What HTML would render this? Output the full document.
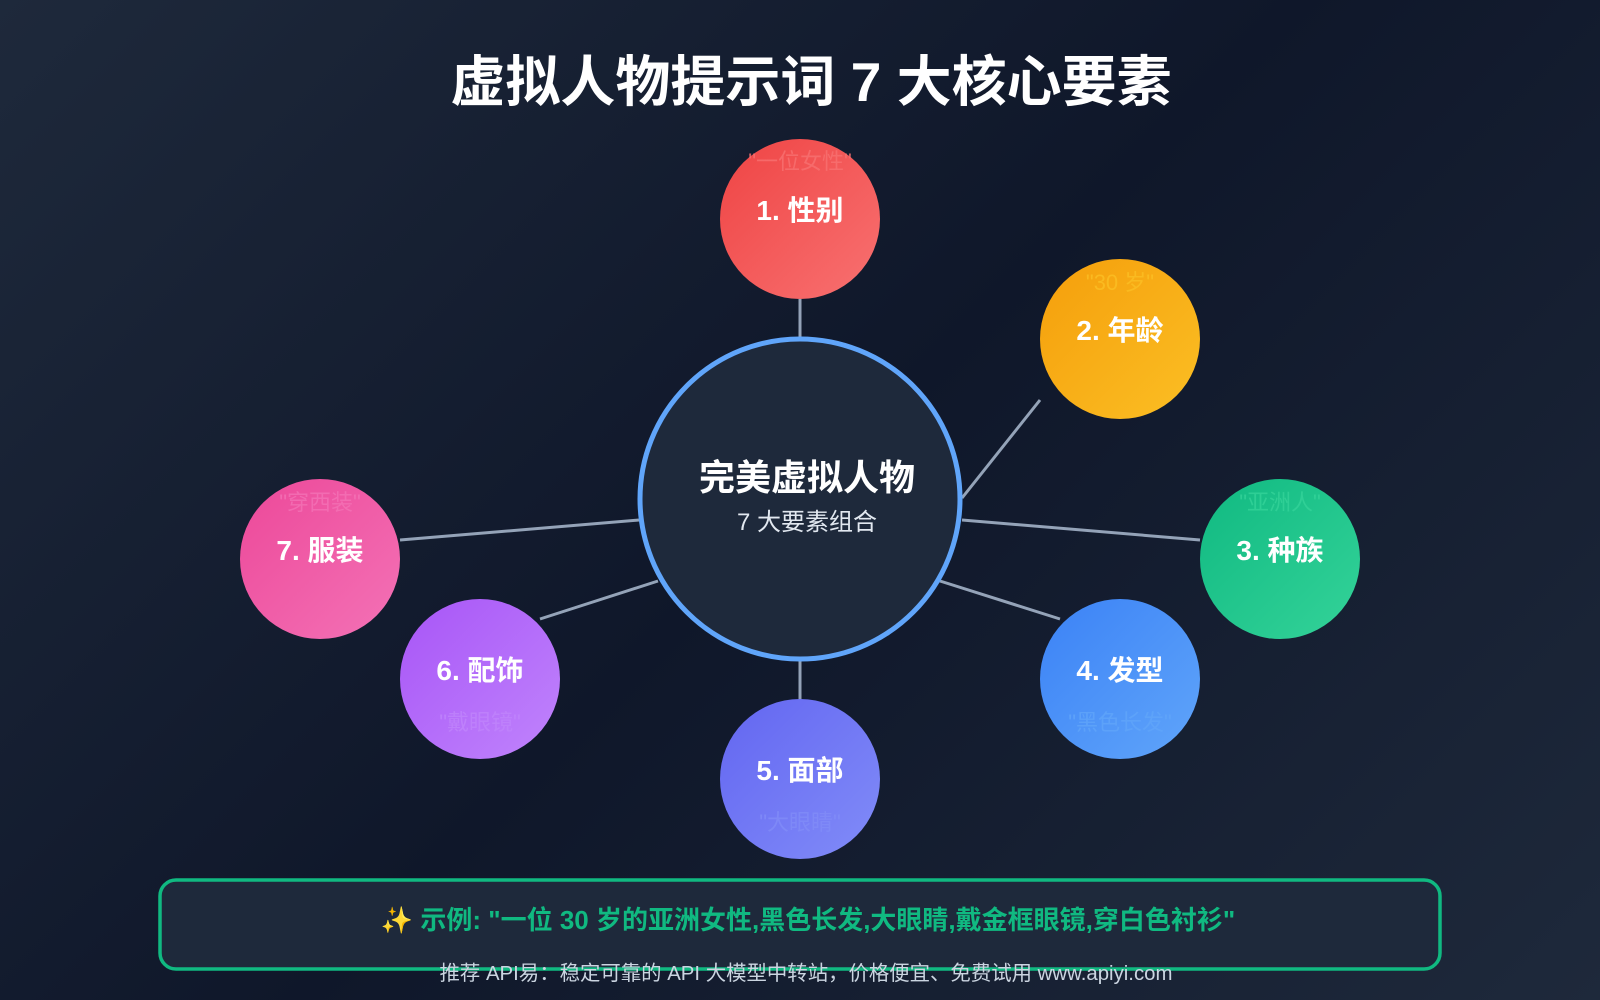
<!DOCTYPE html>
<html><head><meta charset="utf-8"><style>
html,body{margin:0;padding:0;}
body{width:1600px;height:1000px;overflow:hidden;background:linear-gradient(135deg,#1e293b 0%,#0f172a 50%,#1e293b 100%);font-family:"Liberation Sans","Noto Sans CJK SC",sans-serif;}
</style></head><body>
<svg width="1600" height="1000" viewBox="0 0 1600 1000" xmlns="http://www.w3.org/2000/svg" style="position:absolute;left:0;top:0">
<defs>
<linearGradient id="g1" x1="0" y1="0" x2="1" y2="1"><stop offset="0" stop-color="#ef4444"/><stop offset="1" stop-color="#f87171"/></linearGradient>
<linearGradient id="g2" x1="0" y1="0" x2="1" y2="1"><stop offset="0" stop-color="#f59e0b"/><stop offset="1" stop-color="#fbbf24"/></linearGradient>
<linearGradient id="g3" x1="0" y1="0" x2="1" y2="1"><stop offset="0" stop-color="#10b981"/><stop offset="1" stop-color="#34d399"/></linearGradient>
<linearGradient id="g4" x1="0" y1="0" x2="1" y2="1"><stop offset="0" stop-color="#3b82f6"/><stop offset="1" stop-color="#60a5fa"/></linearGradient>
<linearGradient id="g5" x1="0" y1="0" x2="1" y2="1"><stop offset="0" stop-color="#6366f1"/><stop offset="1" stop-color="#818cf8"/></linearGradient>
<linearGradient id="g6" x1="0" y1="0" x2="1" y2="1"><stop offset="0" stop-color="#a855f7"/><stop offset="1" stop-color="#c084fc"/></linearGradient>
<linearGradient id="g7" x1="0" y1="0" x2="1" y2="1"><stop offset="0" stop-color="#ec4899"/><stop offset="1" stop-color="#f472b6"/></linearGradient>
</defs>
<text x="811" y="101" text-anchor="middle" font-size="55" font-weight="bold" fill="#fff">虚拟人物提示词 7 大核心要素</text>
<g stroke="#94a3b8" stroke-width="3">
<line x1="800" y1="299" x2="800" y2="339"/>
<line x1="1040" y1="400" x2="962" y2="498"/>
<line x1="962" y1="520" x2="1200" y2="540"/>
<line x1="940" y1="581" x2="1060" y2="619"/>
<line x1="800" y1="661" x2="800" y2="700"/>
<line x1="658" y1="581" x2="540" y2="619"/>
<line x1="639" y1="520" x2="400" y2="540"/>
</g>
<circle cx="800" cy="499" r="160" fill="#1e293b" stroke="#60a5fa" stroke-width="5"/>
<text x="807" y="490" text-anchor="middle" font-size="36" font-weight="bold" fill="#fff">完美虚拟人物</text>
<text x="807" y="530" text-anchor="middle" font-size="24" fill="#e2e8f0">7 大要素组合</text>
<g font-weight="bold" font-size="28" fill="#fff" text-anchor="middle">
<circle cx="800" cy="219" r="80" fill="url(#g1)"/><text x="800" y="220">1. 性别</text>
<circle cx="1120" cy="339" r="80" fill="url(#g2)"/><text x="1120" y="340">2. 年龄</text>
<circle cx="1280" cy="559" r="80" fill="url(#g3)"/><text x="1280" y="560">3. 种族</text>
<circle cx="1120" cy="679" r="80" fill="url(#g4)"/><text x="1120" y="680">4. 发型</text>
<circle cx="800" cy="779" r="80" fill="url(#g5)"/><text x="800" y="780">5. 面部</text>
<circle cx="480" cy="679" r="80" fill="url(#g6)"/><text x="480" y="680">6. 配饰</text>
<circle cx="320" cy="559" r="80" fill="url(#g7)"/><text x="320" y="560">7. 服装</text>
</g>
<g font-size="22" text-anchor="middle">
<text x="800" y="169" fill="#f87171" opacity="0.8">"一位女性"</text>
<text x="1120" y="290" fill="#fbbf24" opacity="0.8">"30 岁"</text>
<text x="1280" y="510" fill="#34d399" opacity="0.8">"亚洲人"</text>
<text x="1120" y="730" fill="#60a5fa" opacity="0.8">"黑色长发"</text>
<text x="800" y="830" fill="#818cf8" opacity="0.8">"大眼睛"</text>
<text x="480" y="730" fill="#c084fc" opacity="0.8">"戴眼镜"</text>
<text x="320" y="510" fill="#f472b6" opacity="0.8">"穿西装"</text>
</g>
<rect x="160" y="880" width="1280" height="89" rx="16" fill="#1e293b" stroke="#10b981" stroke-width="3.5"/>
<text x="808" y="929" text-anchor="middle" font-size="26" font-weight="bold" fill="#10b981">✨ 示例: "一位 30 岁的亚洲女性,黑色长发,大眼睛,戴金框眼镜,穿白色衬衫"</text>
<text x="806" y="980" text-anchor="middle" font-size="20.4" fill="#cbd5e1">推荐 API易：稳定可靠的 API 大模型中转站，价格便宜、免费试用 www.apiyi.com</text>
</svg>
</body></html>
